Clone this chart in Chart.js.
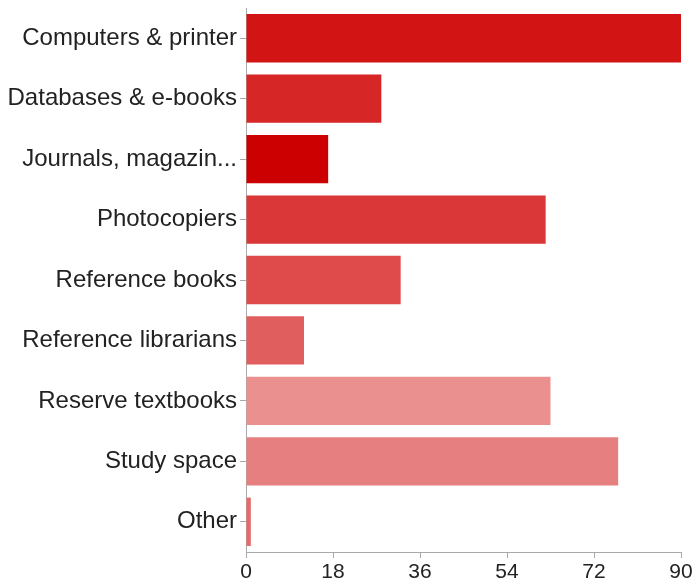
<!DOCTYPE html>
<html>
<head>
<meta charset="utf-8">
<script src="https://cdn.jsdelivr.net/npm/chart.js@4"></script>
<style>
  body { margin: 0; background: #fff; }
</style>
</head>
<body>
<canvas id="libChart" width="698" height="583"></canvas>
<script>
// Library services chart
const categories = ['Computers & printer', 'Databases & e-books', 'Journals, magazin...', 'Photocopiers',
    'Reference books', 'Reference librarians', 'Reserve textbooks', 'Study space', 'Other'];
const counts = [90, 28, 17, 62, 32, 12, 63, 77, 1];
const barColors = ['#d21414', '#d62626', '#cc0000', '#da3838', '#df4b4b', '#e05e5e', '#ea9190', '#e67f7f', '#e66a6a'];
const xTicks = [0, 18, 36, 54, 72, 90];

Chart.defaults.font.family = "'Liberation Sans', Arial, sans-serif";
Chart.defaults.color = '#222';

const ctx = document.getElementById('libChart').getContext('2d');
new Chart(ctx, {
    type: 'bar',
    data: {
        labels: categories,
        datasets: [{
            data: counts,
            backgroundColor: barColors,
            borderWidth: 0,
            barPercentage: 0.8,
            categoryPercentage: 1.0
        }]
    },
    options: {
        indexAxis: 'y',
        responsive: false,
        animation: false,
        layout: { padding: { top: 8, right: 17, left: 0, bottom: 0 } },
        plugins: { legend: { display: false }, tooltip: { enabled: false } },
        scales: {
            x: {
                min: 0,
                max: 90,
                afterBuildTicks: (s) => { s.ticks = xTicks.map(v => ({ value: v })); },
                ticks: { font: { size: 21 }, padding: 2, maxRotation: 0 },
                grid: { drawOnChartArea: false, tickLength: 6, color: '#aaa' },
                border: { color: '#aaa' },
                afterFit: (s) => { s.height = 31; s.paddingLeft = 0; s.paddingRight = 0; }
            },
            y: {
                ticks: { font: { size: 24 }, padding: 3 },
                grid: { drawOnChartArea: false, tickLength: 6, color: '#aaa', offset: false },
                border: { color: '#aaa' },
                afterFit: (s) => { s.width = 246; s.paddingTop = 0; s.paddingBottom = 0; }
            }
        }
    }
});
</script>
</body>
</html>
